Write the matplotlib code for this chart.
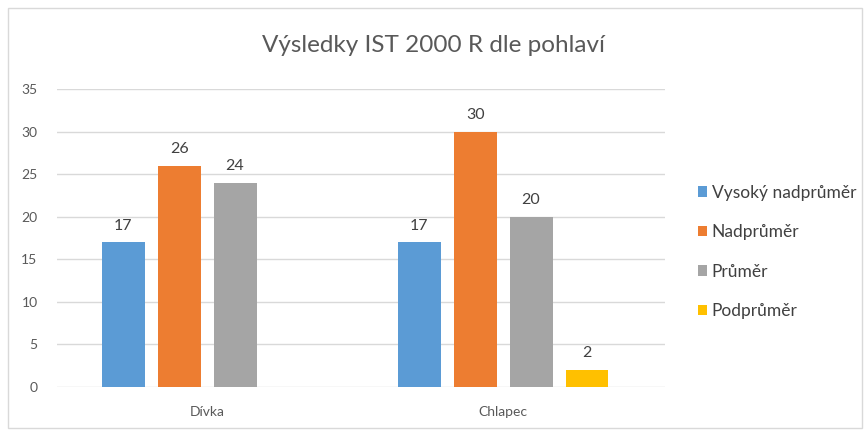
import numpy as np
import matplotlib
matplotlib.use('Agg')
import matplotlib.pyplot as plt
from matplotlib.patches import Rectangle

categories = ['Dívka', 'Chlapec']
series = ['Vysoký nadprůměr', 'Nadprůměr', 'Průměr', 'Podprůměr']
values = {
    'Vysoký nadprůměr': [17, 17],
    'Nadprůměr': [26, 30],
    'Průměr': [24, 20],
    'Podprůměr': [np.nan, 2],
}
colors = ['#5B9BD5', '#ED7D31', '#A5A5A5', '#FFC000']

plt.rcParams['font.family'] = ['Lato', 'DejaVu Sans']

fig = plt.figure(figsize=(8.64, 4.30), dpi=100)
ax = fig.add_axes([57 / 864, 43 / 430, 608 / 864, 298 / 430])

# light frame around the whole chart
fig.patches.append(Rectangle((8 / 864, 2 / 430), 854 / 864, 420 / 430,
                             transform=fig.transFigure, fill=False,
                             edgecolor='#D9D9D9', linewidth=1))

x = np.arange(len(categories))
slot = 0.189
width = 0.145
for i, name in enumerate(series):
    pos = x + (i - 1.5) * slot
    vals = values[name]
    bars = ax.bar(pos, vals, width, color=colors[i], label=name, zorder=3)
    for b, v in zip(bars, vals):
        if not np.isnan(v):
            ax.annotate(f'{v:g}', (b.get_x() + b.get_width() / 2, v),
                        xytext=(0, 7), textcoords='offset points',
                        ha='center', va='bottom', fontsize=11.5, color='#404040')

ax.set_xlim(-0.507, 1.547)
ax.set_ylim(0, 35)
ax.set_yticks(range(0, 36, 5))
ax.set_xticks(x)
ax.set_xticklabels(categories)
ax.grid(axis='y', color='#D9D9D9', linewidth=1, zorder=0)
for s in ax.spines.values():
    s.set_visible(False)
ax.tick_params(axis='both', length=0, labelsize=10, colors='#595959')
ax.tick_params(axis='y', pad=14)
ax.tick_params(axis='x', pad=14)

fig.text(433 / 864, 1 - 45 / 430, 'Výsledky IST 2000 R dle pohlaví',
         ha='center', va='center', fontsize=17.5, color='#595959')

ax.legend(loc='center left', bbox_to_anchor=(682 / 864, 1 - 252 / 430),
          bbox_transform=fig.transFigure, frameon=False, fontsize=12.5,
          handlelength=0.55, handleheight=0.55, handletextpad=0.25,
          labelspacing=1.35, labelcolor='#404040')

plt.savefig('out.png', dpi=100)
